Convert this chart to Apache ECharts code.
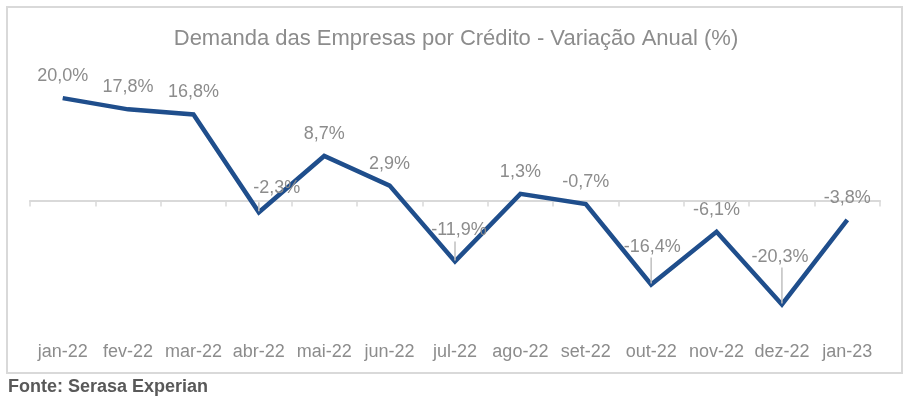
<!DOCTYPE html>
<html>
<head>
<meta charset="utf-8">
<script src="https://cdn.jsdelivr.net/npm/echarts@6/dist/echarts.min.js"></script>
<style>
  html, body { margin: 0; padding: 0; background: #fff; }
  #chart { width: 912px; height: 397px; }
</style>
</head>
<body>
<div id="chart"></div>
<script>
// dados
const months = ['jan-22', 'fev-22', 'mar-22', 'abr-22', 'mai-22', 'jun-22', 'jul-22',
  'ago-22', 'set-22', 'out-22', 'nov-22', 'dez-22', 'jan-23']
const demanda = [20.0, 17.8, 16.8, -2.3, 8.7, 2.9, -11.9, 1.3, -0.7, -16.4, -6.1, -20.3, -3.8]

// rotulos com linha de chamada (como no excel)
const leaders = {
  3: { shift: 18, len: 9, gap: 11 },
  6: { shift: 4, len: 19, gap: 5 },
  9: { shift: 1, len: 26, gap: 3 },
  11: { shift: -2, len: 36, gap: 2 }
}

const gray = '#8c8c8c'
const fontFamily = 'Liberation Sans, Arial, sans-serif'

const fmt = v => v.toFixed(1).replace('.', ',') + '%'

const seriesData = demanda.map((v, i) => {
  const ld = leaders[i]
  if (!ld) return v
  const rich = {}
  rich['t' + i] = {
    fontSize: 18, color: gray, lineHeight: 18, fontFamily: fontFamily,
    padding: [0, ld.shift < 0 ? -2 * ld.shift : 0, ld.gap, ld.shift > 0 ? 2 * ld.shift : 0]
  }
  rich['l' + i] = { width: 1.5, height: ld.len, lineHeight: ld.len, backgroundColor: '#bfbfbf' }
  return { value: v, label: { distance: 1, rich: rich } }
})

const chart = echarts.init(document.getElementById('chart'))

chart.setOption({
  animation: false,
  textStyle: { fontFamily: fontFamily },
  title: {
    text: 'Demanda das Empresas por Crédito - Variação Anual (%)',
    left: 'center',
    top: 23,
    textStyle: { color: gray, fontSize: 22, fontWeight: 'normal', fontFamily: fontFamily }
  },
  graphic: [
    {
      type: 'rect',
      shape: { x: 7, y: 7, width: 895, height: 366 },
      style: { fill: 'none', stroke: '#d9d9d9', lineWidth: 2 },
      silent: true
    },
    {
      type: 'text',
      left: 8,
      top: 378,
      style: { text: 'Fonte: Serasa Experian', fill: '#595959', font: 'bold 18px ' + fontFamily }
    }
  ],
  grid: {
    top: 72.5,
    bottom: 68.5,
    left: 30,
    right: 32
  },
  xAxis: [{
    type: 'category',
    data: months,
    boundaryGap: true,
    axisLine: { onZero: true, lineStyle: { color: '#d9d9d9', width: 2 } },
    axisTick: { show: true, interval: 0, length: 6, lineStyle: { color: '#d9d9d9', width: 1.5 } },
    axisLabel: { show: false }
  }, {
    type: 'category',
    data: months,
    position: 'bottom',
    boundaryGap: true,
    axisLine: { show: false, onZero: false },
    axisTick: { show: false },
    axisLabel: { color: gray, fontSize: 18, margin: 15, interval: 0, fontFamily: fontFamily }
  }],
  yAxis: {
    type: 'value',
    min: -25,
    max: 25,
    show: false,
    splitLine: { show: false }
  },
  series: [{
    name: 'Demanda',
    type: 'line',
    xAxisIndex: 0,
    data: seriesData,
    symbol: 'circle',
    symbolSize: 0,
    showSymbol: true,
    lineStyle: { color: '#1f4e8c', width: 4.5, join: 'miter' },
    itemStyle: { color: '#1f4e8c' },
    label: {
      show: true,
      position: 'top',
      distance: 13,
      color: gray,
      fontSize: 18,
      fontFamily: fontFamily,
      formatter: p => {
        const txt = fmt(p.value)
        if (leaders[p.dataIndex]) {
          return '{t' + p.dataIndex + '|' + txt + '}\n{l' + p.dataIndex + '|}'
        }
        return txt
      }
    }
  }]
})
</script>
</body>
</html>
